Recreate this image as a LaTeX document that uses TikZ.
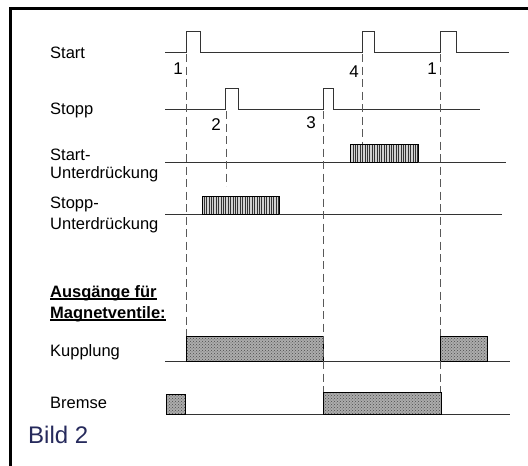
\documentclass[tikz,border=0pt]{standalone}
\usepackage{fontspec}
\setmainfont{Liberation Sans}
\usetikzlibrary{patterns,patterns.meta}
\definecolor{navy}{RGB}{38,42,92}
\begin{document}
\begin{tikzpicture}[x=1pt,y=-1pt,
  sig/.style={line width=0.8pt, draw=black!80},
  guide/.style={line width=0.8pt, draw=black!65, dash pattern=on 8pt off 4.5pt},
  lbl/.style={anchor=base west, inner sep=0pt, font=\fontsize{16.5}{18}\selectfont},
  boldlbl/.style={lbl, font=\fontsize{16.5}{18}\selectfont\bfseries},
  num/.style={inner sep=0pt, font=\fontsize{17}{18}\selectfont},
  hatchbox/.style={draw=black, line width=0.9pt, preaction={fill=gray!35},
    pattern={Lines[angle=90,distance=2.4pt,line width=0.6pt]}, pattern color=black!80},
  dotbox/.style={draw=black, line width=0.9pt, preaction={fill=gray!65},
    pattern=crosshatch dots, pattern color=black!70}
]
\useasboundingbox (0,0) rectangle (528,466);
% frame
\draw[line width=2.6pt] (10.7,466) -- (10.7,8.7) -- (528,8.7);

% labels
\node[lbl] (lstart) at (50,58) {Start};
\node[lbl] (lstopp) at (50,114.5) {Stopp};
\node[lbl] (lsu1) at (50,160) {Start-};
\node[lbl] (lsu2) at (50,178) {Unterdrückung};
\node[lbl] (lpu1) at (50,208) {Stopp-};
\node[lbl] (lpu2) at (50,229) {Unterdrückung};
\node[boldlbl] (laus1) at (50,297) {Ausgänge für};
\node[boldlbl] (laus2) at (50,318) {Magnetventile:};
\draw[line width=1.3pt] ([yshift=-2pt]laus1.base west) -- ([yshift=-2pt]laus1.base east);
\draw[line width=1.3pt] ([yshift=-2pt]laus2.base west) -- ([yshift=-2pt]laus2.base east);
\node[lbl] (lkup) at (50,356) {Kupplung};
\node[lbl] (lbrem) at (50,408) {Bremse};
\node[lbl, font=\fontsize{24}{28}\selectfont, text=navy] (bild) at (28,443) {Bild 2};

% numbers
\node[num] (n1a) at (178,69) {1};
\node[num] (n2) at (216,125) {2};
\node[num] (n3) at (311,123) {3};
\node[num] (n4) at (354,72) {4};
\node[num] (n1b) at (432,69) {1};

% unterdrueckung boxes
\draw[hatchbox] (350,144) rectangle (418,162);
\draw[hatchbox] (202,196) rectangle (279,214);

% baselines
\draw[sig] (165,162) -- (350,162);
\draw[sig] (418,162) -- (506,162);
\draw[sig] (165,214) -- (202,214);
\draw[sig] (279,214) -- (502,214);
\draw[sig] (165,361) -- (510,361);
\draw[sig] (185,414) -- (510,414);

% output boxes
\draw[dotbox] (186,336) rectangle (323,361);
\draw[dotbox] (440,336) rectangle (487,361);
\draw[dotbox] (166,394) rectangle (185,414);
\draw[dotbox] (323,392) rectangle (441,414);

% signals
\draw[sig] (165,52) -- (186,52) -- (186,31) -- (200,31) -- (200,52) -- (362,52) -- (362,31) -- (374,31) -- (374,52) -- (440,52) -- (440,31) -- (456,31) -- (456,52) -- (509,52);
\draw[sig] (165,109) -- (225,109) -- (225,88) -- (238,88) -- (238,109) -- (323,109) -- (323,88) -- (333,88) -- (333,109) -- (480,109);

% guides
\draw[guide] (186,54) -- (186,336);
\draw[guide] (226,111) -- (226,186);
\draw[guide] (362,54) -- (362,144);
\draw[guide] (323,111) -- (323,392);
\draw[guide] (440,54) -- (440,336);
\draw[guide] (440,361) -- (440,392);
\end{tikzpicture}
\end{document}
